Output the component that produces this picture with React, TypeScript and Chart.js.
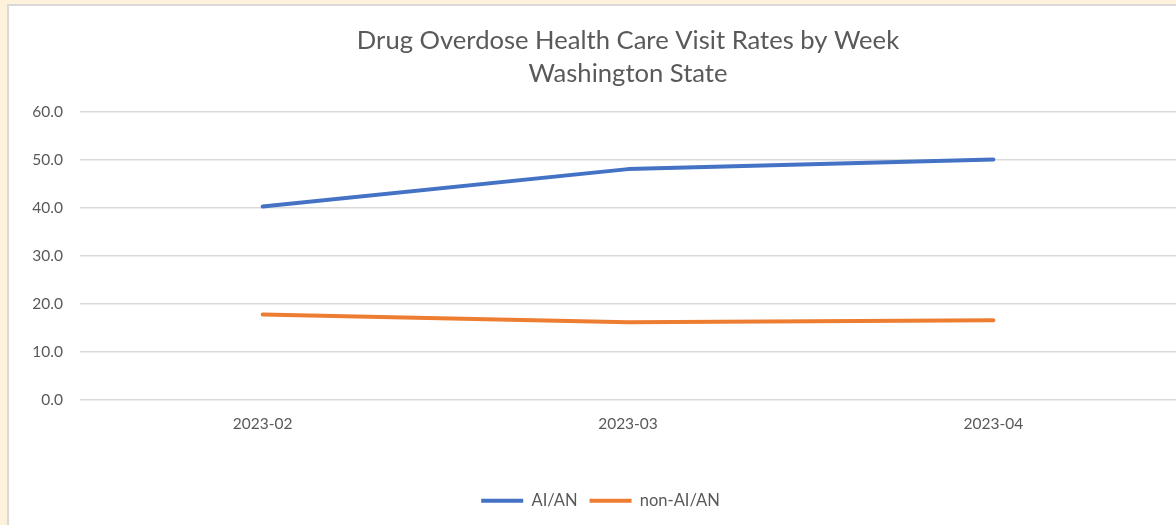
import React, { useEffect, useRef } from "react";
import { Chart, registerables } from "chart.js";

Chart.register(...registerables);

const weeks = ["2023-02", "2023-03", "2023-04"];
const aianRates = [40.3, 48.1, 50.1];
const nonAianRates = [17.8, 16.2, 16.6];
const titleLines = ["Drug Overdose Health Care Visit Rates by Week", "Washington State"];
const seriesNames = ["AI/AN", "non-AI/AN"];

const FONT = "Lato, 'Open Sans', sans-serif";
const TEXT = "#595959";

export default function App() {
  const ref = useRef<HTMLCanvasElement | null>(null);

  useEffect(() => {
    if (!ref.current) return;
    const chart = new Chart(ref.current, {
      type: "line",
      data: {
        labels: weeks,
        datasets: [
          {
            label: seriesNames[0],
            data: aianRates,
            borderColor: "#4472C4",
            backgroundColor: "#4472C4",
            borderWidth: 4,
            borderCapStyle: "round",
            borderJoinStyle: "round",
            pointRadius: 0,
            pointHoverRadius: 0,
            tension: 0,
          },
          {
            label: seriesNames[1],
            data: nonAianRates,
            borderColor: "#ED7D31",
            backgroundColor: "#ED7D31",
            borderWidth: 4,
            borderCapStyle: "round",
            borderJoinStyle: "round",
            pointRadius: 0,
            pointHoverRadius: 0,
            tension: 0,
          },
        ],
      },
      options: {
        responsive: false,
        animation: false,
        layout: { padding: { left: 16, right: 0, top: 0, bottom: 6 } },
        plugins: {
          tooltip: { enabled: false },
          title: {
            display: true,
            text: titleLines,
            fullSize: false,
            color: TEXT,
            font: { family: FONT, size: 25.6, weight: "normal", lineHeight: 33 / 25.6 },
            padding: { top: 18, bottom: 22 },
          },
          legend: {
            position: "bottom",
            labels: {
              usePointStyle: true,
              pointStyle: "line",
              pointStyleWidth: 42,
              color: TEXT,
              font: { family: FONT, size: 16.5 },
              padding: 12,
            },
          },
        },
        scales: {
          x: {
            type: "category",
            offset: true,
            grid: { display: false, drawTicks: false },
            border: { display: false },
            ticks: { color: TEXT, font: { family: FONT, size: 15.5 }, padding: 15, maxRotation: 0 },
            afterFit: (s: any) => {
              s.height = 80.5;
            },
          },
          y: {
            min: 0,
            max: 60,
            grid: { color: "#D9D9D9", lineWidth: 1.5, drawTicks: false },
            border: { display: false },
            ticks: {
              stepSize: 10,
              color: TEXT,
              font: { family: FONT, size: 15.5 },
              padding: 17,
              callback: (v: any) => Number(v).toFixed(1),
            },
            afterFit: (s: any) => {
              s.width = 55;
            },
          },
        },
      },
    });
    return () => chart.destroy();
  }, []);

  return (
    <div style={{ position: "fixed", inset: 0, background: "#FFF2DD", overflow: "hidden" }}>
      <div
        style={{
          position: "absolute",
          left: 7,
          top: 4,
          width: 1200,
          height: 540,
          borderTop: "2px solid #D9D9D9",
          borderLeft: "2px solid #D9D9D9",
          background: "#FFFFFF",
        }}
      >
        <canvas ref={ref} width={1167} height={519} style={{ display: "block" }} />
      </div>
    </div>
  );
}
